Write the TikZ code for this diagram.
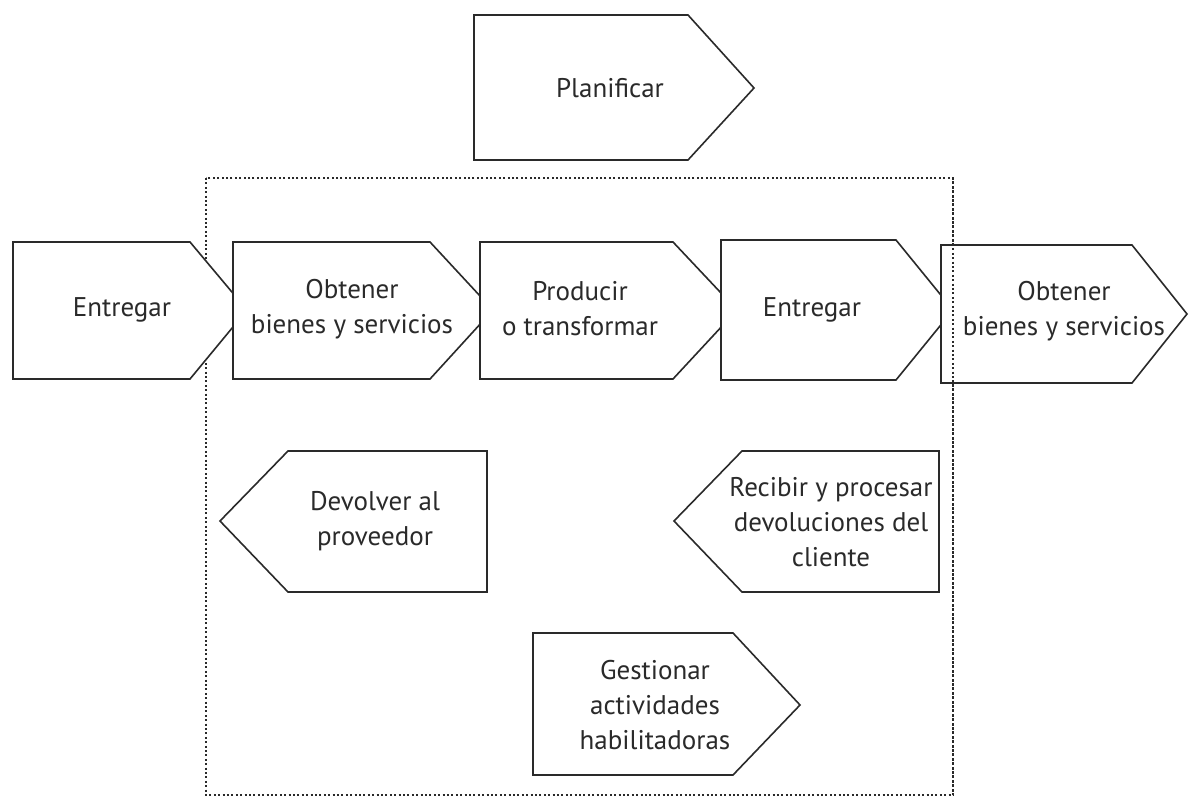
\documentclass[tikz,border=0pt]{standalone}
\usepackage{fontspec}
\setmainfont{PT Sans}
\definecolor{ink}{HTML}{2A2A2A}
\tikzset{
  stage/.style={draw=ink, line width=1.6pt, fill=white, line join=miter},
  lbl/.style={text=ink, font=\fontsize{27}{35}\selectfont, align=center, inner sep=0pt},
  scopebox/.style={draw=ink, line width=2pt, dash pattern=on 2pt off 2.4pt}
}
\begin{document}
\begin{tikzpicture}[x=1pt,y=-1pt]
\useasboundingbox (0,0) rectangle (1189,799);
\fill[white] (0,0) rectangle (1189,799);

% process scope
\draw[scopebox] (206,178) rectangle (953,795);

% planning stage
\draw[stage] (474,15) -- (688,15) -- (754,88) -- (688,160) -- (474,160) -- cycle;
\node[lbl] (plan) at (610,88) {Planificar};

% main chain of stages
\draw[stage] (13,242) -- (190,242) -- (247,310) -- (190,379) -- (13,379) -- cycle;
\node[lbl] (ent1) at (122,310) {Entregar};

\draw[stage] (233,242) -- (430,242) -- (493,310) -- (430,379) -- (233,379) -- cycle;
\node[lbl] (obt1) at (352,309) {Obtener\\bienes y servicios};

\draw[stage] (480,242) -- (673,242) -- (737,310) -- (673,379) -- (480,379) -- cycle;
\node[lbl] (prod) at (580,309) {Producir\\o transformar};

\draw[stage] (721,240) -- (896,240) -- (953,310) -- (896,380) -- (721,380) -- cycle;
\node[lbl] (ent2) at (812,310) {Entregar};

\draw[stage] (941,245) -- (1132,245) -- (1187,314) -- (1132,383) -- (941,383) -- cycle;
\node[lbl] (obt2) at (1064,311) {Obtener\\bienes y servicios};

% the scope edge runs over the last stage
\draw[scopebox] (953,178) -- (953,795);

% return stages
\draw[stage] (487,451) -- (288,451) -- (220,521) -- (288,592) -- (487,592) -- cycle;
\node[lbl] (dev) at (375,521) {Devolver al\\proveedor};

\draw[stage] (939,451) -- (742,451) -- (674,521) -- (742,592) -- (939,592) -- cycle;
\node[lbl] (rec) at (831,522) {Recibir y procesar\\devoluciones del\\cliente};

% enabling stage
\draw[stage] (533,633) -- (733,633) -- (800,705) -- (733,775) -- (533,775) -- cycle;
\node[lbl] (gest) at (655,705) {Gestionar\\actividades\\habilitadoras};
\end{tikzpicture}
\end{document}
